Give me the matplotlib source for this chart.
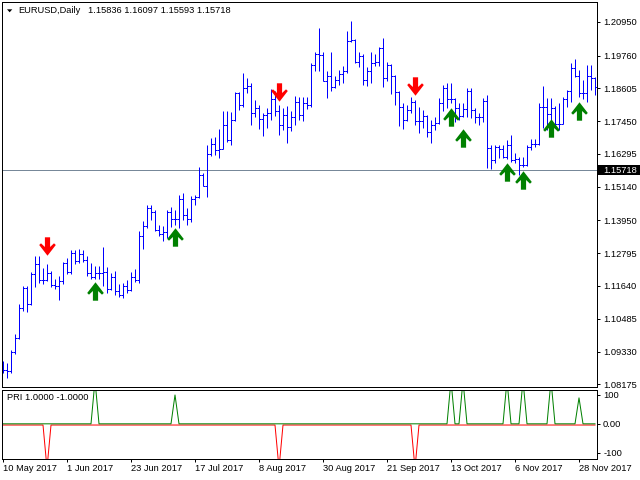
import matplotlib
matplotlib.use('Agg')
import matplotlib.pyplot as plt
from matplotlib.collections import LineCollection
from matplotlib.path import Path
from matplotlib.patches import Polygon, Rectangle
import matplotlib.transforms as mtransforms
import numpy as np
import pandas as pd

plt.rcParams['font.family'] = ['Liberation Sans', 'DejaVu Sans']

# ---------------- data ----------------
symbol_title = "EURUSD,Daily"
title_ohlc = "1.15836 1.16097 1.15593 1.15718"
indicator_title = "PRI 1.0000 -1.0000"
current_price = 1.15718
start_date = '2017-05-10'

opens = [1.0876, 1.0867, 1.0864, 1.0932, 1.0980, 1.1087, 1.1158, 1.1101, 1.1206, 1.1242,
         1.1185, 1.1184, 1.1210, 1.1166, 1.1163, 1.1182, 1.1244, 1.1213, 1.1281, 1.1253,
         1.1277, 1.1257, 1.1211, 1.1196, 1.1211, 1.1210, 1.1215, 1.1152, 1.1197, 1.1147,
         1.1131, 1.1165, 1.1150, 1.1195, 1.1186, 1.1339, 1.1375, 1.1440, 1.1426, 1.1362,
         1.1348, 1.1355, 1.1424, 1.1399, 1.1399, 1.1469, 1.1414, 1.1400, 1.1470, 1.1478,
         1.1556, 1.1518, 1.1630, 1.1665, 1.1643, 1.1648, 1.1731, 1.1677, 1.1750, 1.1843,
         1.1803, 1.1860, 1.1868, 1.1773, 1.1792, 1.1753, 1.1767, 1.1773, 1.1822, 1.1780,
         1.1732, 1.1768, 1.1723, 1.1760, 1.1812, 1.1767, 1.1810, 1.1800, 1.1943, 1.1982,
         1.1979, 1.1887, 1.1905, 1.1865, 1.1890, 1.1911, 1.1920, 1.2028, 1.2030, 1.1955,
         1.1973, 1.1890, 1.1922, 1.1948, 1.1955, 1.2003, 1.1897, 1.1941, 1.1905, 1.1849,
         1.1793, 1.1749, 1.1785, 1.1813, 1.1745, 1.1744, 1.1763, 1.1705, 1.1730, 1.1737,
         1.1808, 1.1862, 1.1823, 1.1822, 1.1792, 1.1764, 1.1789, 1.1850, 1.1785, 1.1759,
         1.1761, 1.1815, 1.1651, 1.1608, 1.1652, 1.1646, 1.1619, 1.1660, 1.1608, 1.1610,
         1.1592, 1.1590, 1.1652, 1.1664, 1.1664, 1.1795, 1.1794, 1.1771, 1.1791, 1.1734,
         1.1736, 1.1824, 1.1852, 1.1931, 1.1905, 1.1845, 1.1844, 1.1904, 1.1898]
highs = [1.0900, 1.0893, 1.0938, 1.0994, 1.1100, 1.1164, 1.1164, 1.1215, 1.1268, 1.1268,
         1.1228, 1.1242, 1.1217, 1.1190, 1.1200, 1.1250, 1.1263, 1.1291, 1.1291, 1.1296,
         1.1291, 1.1268, 1.1245, 1.1233, 1.1233, 1.1300, 1.1232, 1.1210, 1.1217, 1.1171,
         1.1176, 1.1185, 1.1214, 1.1224, 1.1356, 1.1393, 1.1450, 1.1450, 1.1430, 1.1380,
         1.1374, 1.1432, 1.1443, 1.1432, 1.1485, 1.1490, 1.1440, 1.1480, 1.1485, 1.1585,
         1.1562, 1.1661, 1.1686, 1.1690, 1.1718, 1.1782, 1.1782, 1.1776, 1.1846, 1.1846,
         1.1915, 1.1897, 1.1880, 1.1820, 1.1801, 1.1775, 1.1790, 1.1858, 1.1850, 1.1800,
         1.1790, 1.1797, 1.1780, 1.1835, 1.1830, 1.1830, 1.1830, 1.1950, 1.1990, 1.2074,
         1.1990, 1.1920, 1.1987, 1.1905, 1.1925, 1.1940, 1.2064, 1.2098, 1.2035, 1.1990,
         1.1980, 1.1935, 1.1990, 1.1980, 1.2005, 1.2038, 1.1955, 1.1945, 1.1908, 1.1850,
         1.1810, 1.1803, 1.1831, 1.1820, 1.1796, 1.1784, 1.1765, 1.1749, 1.1760, 1.1826,
         1.1872, 1.1878, 1.1878, 1.1826, 1.1808, 1.1808, 1.1861, 1.1861, 1.1790, 1.1773,
         1.1826, 1.1838, 1.1661, 1.1661, 1.1661, 1.1661, 1.1679, 1.1696, 1.1632, 1.1620,
         1.1620, 1.1661, 1.1681, 1.1681, 1.1808, 1.1869, 1.1826, 1.1826, 1.1797, 1.1808,
         1.1831, 1.1856, 1.1951, 1.1963, 1.1925, 1.1890, 1.1943, 1.1943, 1.1900]
lows = [1.0858, 1.0840, 1.0857, 1.0923, 1.0976, 1.1076, 1.1073, 1.1097, 1.1162, 1.1175,
        1.1172, 1.1180, 1.1161, 1.1155, 1.1115, 1.1170, 1.1205, 1.1205, 1.1240, 1.1244,
        1.1250, 1.1200, 1.1190, 1.1190, 1.1190, 1.1165, 1.1138, 1.1150, 1.1133, 1.1126,
        1.1120, 1.1140, 1.1145, 1.1178, 1.1176, 1.1293, 1.1370, 1.1397, 1.1356, 1.1339,
        1.1322, 1.1334, 1.1373, 1.1379, 1.1369, 1.1397, 1.1379, 1.1391, 1.1450, 1.1474,
        1.1515, 1.1479, 1.1622, 1.1625, 1.1615, 1.1645, 1.1670, 1.1660, 1.1745, 1.1785,
        1.1795, 1.1845, 1.1732, 1.1760, 1.1716, 1.1692, 1.1720, 1.1749, 1.1763, 1.1695,
        1.1715, 1.1668, 1.1710, 1.1733, 1.1749, 1.1745, 1.1787, 1.1793, 1.1920, 1.1920,
        1.1885, 1.1826, 1.1851, 1.1860, 1.1873, 1.1880, 1.1916, 1.2022, 1.1950, 1.1935,
        1.1873, 1.1870, 1.1880, 1.1940, 1.1940, 1.1864, 1.1888, 1.1840, 1.1803, 1.1726,
        1.1718, 1.1745, 1.1773, 1.1732, 1.1702, 1.1720, 1.1690, 1.1669, 1.1714, 1.1736,
        1.1780, 1.1790, 1.1808, 1.1743, 1.1749, 1.1760, 1.1760, 1.1755, 1.1737, 1.1732,
        1.1743, 1.1580, 1.1576, 1.1597, 1.1615, 1.1615, 1.1611, 1.1602, 1.1597, 1.1555,
        1.1585, 1.1588, 1.1643, 1.1655, 1.1660, 1.1720, 1.1714, 1.1743, 1.1722, 1.1714,
        1.1735, 1.1795, 1.1813, 1.1902, 1.1831, 1.1822, 1.1813, 1.1855, 1.1836]
closes = [1.0867, 1.0864, 1.0932, 1.0980, 1.1087, 1.1158, 1.1101, 1.1206, 1.1242, 1.1185,
          1.1184, 1.1210, 1.1166, 1.1163, 1.1182, 1.1244, 1.1213, 1.1281, 1.1253, 1.1277,
          1.1257, 1.1211, 1.1196, 1.1211, 1.1210, 1.1215, 1.1152, 1.1197, 1.1147, 1.1131,
          1.1165, 1.1150, 1.1195, 1.1186, 1.1339, 1.1375, 1.1440, 1.1426, 1.1362, 1.1348,
          1.1355, 1.1424, 1.1399, 1.1399, 1.1469, 1.1414, 1.1400, 1.1470, 1.1478, 1.1556,
          1.1518, 1.1630, 1.1665, 1.1643, 1.1648, 1.1731, 1.1677, 1.1750, 1.1843, 1.1803,
          1.1860, 1.1868, 1.1773, 1.1792, 1.1753, 1.1767, 1.1773, 1.1822, 1.1780, 1.1732,
          1.1768, 1.1723, 1.1760, 1.1812, 1.1767, 1.1810, 1.1800, 1.1943, 1.1982, 1.1979,
          1.1887, 1.1905, 1.1865, 1.1890, 1.1911, 1.1920, 1.2028, 1.2030, 1.1955, 1.1973,
          1.1890, 1.1922, 1.1948, 1.1955, 1.2003, 1.1897, 1.1941, 1.1905, 1.1849, 1.1793,
          1.1749, 1.1785, 1.1813, 1.1745, 1.1744, 1.1763, 1.1705, 1.1730, 1.1737, 1.1808,
          1.1862, 1.1823, 1.1822, 1.1792, 1.1764, 1.1789, 1.1850, 1.1785, 1.1759, 1.1761,
          1.1815, 1.1651, 1.1608, 1.1652, 1.1646, 1.1619, 1.1660, 1.1608, 1.1610, 1.1592,
          1.1590, 1.1652, 1.1664, 1.1664, 1.1795, 1.1794, 1.1771, 1.1791, 1.1734, 1.1736,
          1.1824, 1.1852, 1.1931, 1.1905, 1.1845, 1.1844, 1.1904, 1.1898, 1.1864]

price_ticks = [1.20950, 1.19760, 1.18605, 1.17450, 1.16295, 1.15140,
               1.13950, 1.12795, 1.11640, 1.10485, 1.09330, 1.08175]
pri_ticks = [100, 0, -100]
pri_tick_labels = ['100', '0.00', '-100']

red_signal_bars = [11, 69, 103]
red_signal_values = [-150, -150, -150]
red_arrow_prices = [1.1305, 1.1849, 1.1869]
green_signal_bars = [23, 43, 112, 115, 126, 130, 137, 144]
green_signal_values = [150, 100, 150, 150, 150, 150, 150, 90]
green_arrow_prices = [1.1148, 1.1338, 1.1761, 1.1687, 1.1567, 1.1536, 1.1722, 1.1782]

# ---------------- layout ----------------
W, H = 640, 480
fig = plt.figure(figsize=(W / 100, H / 100), dpi=100)
fig.patch.set_facecolor('white')


def frac(x0, y0, x1, y1):
    return [x0 / W, 1 - y1 / H, (x1 - x0) / W, (y1 - y0) / H]


ax = fig.add_axes(frac(2, 2, 597, 387))
ax2 = fig.add_axes(frac(2, 389.5, 597, 459.3))

n = len(closes)
idx = np.arange(n)
dates = pd.bdate_range(start_date, periods=n)

FS = 6.7
LW = 0.72
BLUE = '#0000ff'
GREEN = '#008000'
RED = '#ff0000'

for a in (ax, ax2):
    a.set_xlim(-0.25, 148.5)
    for s in a.spines.values():
        s.set_linewidth(LW)
        s.set_color('black')
    a.set_facecolor('white')

ax.set_ylim(1.08080, 1.21647)
ax2.set_ylim(-123, 119)

# OHLC bars
segs = []
for k in idx:
    segs.append([(k, lows[k]), (k, highs[k])])
    segs.append([(k - 0.45, opens[k]), (k, opens[k])])
    segs.append([(k, closes[k]), (k + 0.45, closes[k])])
lc = LineCollection(segs, colors=BLUE, linewidths=LW, antialiaseds=True)
lc.set_snap(True)
ax.add_collection(lc)

# bid line
ax.axhline(current_price, color='#778899', lw=LW, zorder=1, snap=True)

# arrows
up_verts = [(0, 9.2), (8.3, -1.5), (6.5, -3.2), (2.6, 0.5), (2.6, -9.2), (-2.6, -9.2),
            (-2.6, 0.5), (-6.5, -3.2), (-8.3, -1.5), (0, 9.2)]
codes = [Path.MOVETO] + [Path.LINETO] * 8 + [Path.CLOSEPOLY]
up_path = Path(up_verts, codes)
down_path = Path([(x, -y) for x, y in up_verts], codes)
ms = 18.4 * 0.72
ax.plot(red_signal_bars, red_arrow_prices, ls='none', marker=down_path, ms=ms,
        color=RED, mec=RED, mew=0, zorder=5)
ax.plot(green_signal_bars, green_arrow_prices, ls='none', marker=up_path, ms=ms,
        color=GREEN, mec=GREEN, mew=0, zorder=5)

# indicator
green_series = np.zeros(n)
green_series[green_signal_bars] = green_signal_values
red_series = np.zeros(n)
red_series[red_signal_bars] = red_signal_values
red_tr = mtransforms.offset_copy(ax2.transData, fig=fig, x=0, y=-1.2, units='dots')
ax2.plot(idx, red_series, color=RED, lw=LW, transform=red_tr)
ax2.plot(idx, green_series, color=GREEN, lw=LW)

# ticks
ax.yaxis.tick_right()
ax.set_yticks(price_ticks)
ax.set_yticklabels([f"{v:.5f}" for v in price_ticks])
ax.tick_params(axis='y', direction='out', length=2.4, width=LW, pad=2, labelsize=FS)
ax.set_xticks([])

ax2.yaxis.tick_right()
ax2.set_yticks(pri_ticks)
ax2.set_yticklabels(pri_tick_labels)
ax2.tick_params(axis='y', direction='out', length=2.4, width=LW, pad=2, labelsize=FS)

tick_idx = list(range(0, n, 16))
tick_labels = [f"{dates[i].day} {dates[i].strftime('%b %Y')}" for i in tick_idx]
ax2.set_xticks(tick_idx)
ax2.set_xticklabels(tick_labels, ha='left')
ax2.tick_params(axis='x', direction='out', length=2.2, width=LW, pad=1, labelsize=FS)

# titles
tri = Polygon([(7 / W, 1 - 9.3 / H), (12.3 / W, 1 - 9.3 / H), (9.65 / W, 1 - 12.3 / H)],
              closed=True, transform=fig.transFigure, facecolor='black', edgecolor='none')
fig.patches.append(tri)
fig.text(18 / W, 1 - 10.5 / H, symbol_title, fontsize=FS, va='center', ha='left')
fig.text(88.3 / W, 1 - 10.5 / H, title_ohlc, fontsize=FS, va='center', ha='left')
fig.text(7 / W, 1 - 398 / H, indicator_title, fontsize=FS, va='center', ha='left')

# current price label
rect = Rectangle((598 / W, 1 - 174.5 / H), 42 / W, 9 / H, transform=fig.transFigure,
                 facecolor='black', edgecolor='none', zorder=10)
fig.patches.append(rect)
fig.text(603 / W, 1 - 170 / H, f"{current_price:.5f}", fontsize=FS, va='center',
         ha='left', color='white', zorder=11)

fig.savefig('out.png', dpi=100)
